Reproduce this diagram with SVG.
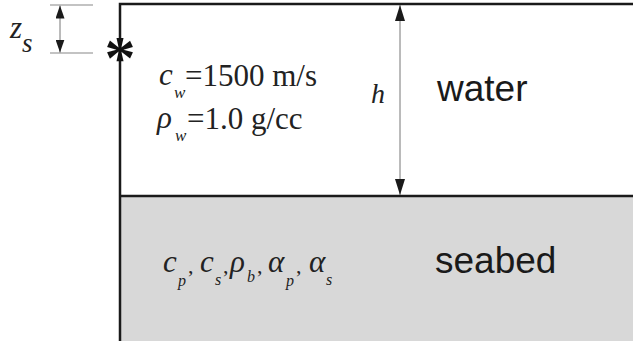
<svg xmlns="http://www.w3.org/2000/svg" width="633" height="341" viewBox="0 0 633 341">
<style>
.m{font-family:"Liberation Serif","Times New Roman",serif;font-style:italic;fill:#222}
.r{font-family:"Liberation Serif","Times New Roman",serif;fill:#222}
.big{font-family:"Liberation Sans",Arial,sans-serif;font-size:37px;fill:#1a1a1a}
.dim{stroke:#777;stroke-width:1;fill:none}
.ext{stroke:#888;stroke-width:1.2}
</style>
<defs>
<marker id="ah" viewBox="0 0 16 10" refX="16" refY="5" markerWidth="16" markerHeight="10" markerUnits="userSpaceOnUse" orient="auto">
<path d="M0,0 L16,5 L0,10 Z" fill="#1a1a1a"/>
</marker>
<marker id="ahs" viewBox="0 0 13 9" refX="13" refY="4.5" markerWidth="13" markerHeight="9" markerUnits="userSpaceOnUse" orient="auto">
<path d="M0,0 L13,4.5 L0,9 Z" fill="#1a1a1a"/>
</marker>
</defs>
<rect width="633" height="341" fill="#ffffff"/>
<g id="seabed">
<rect x="120" y="196" width="513" height="145" fill="#d8d8d8"/>
<text class="big" x="435" y="273">seabed</text>
<g class="m" font-size="31">
<text x="163" y="272">c</text>
<text x="200" y="272">c</text>
<text x="230" y="272">ρ</text>
<text x="268" y="272">α</text>
<text x="309" y="272">α</text>
</g>
<g class="m" font-size="16">
<text x="178" y="286">p</text>
<text x="215" y="285">s</text>
<text x="247" y="282">b</text>
<text x="286" y="286">p</text>
<text x="326" y="285">s</text>
</g>
<g class="r" font-size="22">
<text x="188" y="273">,</text>
<text x="223" y="273">,</text>
<text x="257" y="273">,</text>
<text x="296" y="273">,</text>
</g>
</g>
<g id="water">
<text class="big" x="437" y="101" font-size="38">water</text>
<text class="m" font-size="31" x="159" y="85">c</text>
<text class="m" font-size="17" x="174" y="98">w</text>
<text class="r" font-size="31" x="185" y="86">=1500 m/s</text>
<text class="m" font-size="31" x="157" y="128">ρ</text>
<text class="m" font-size="17" x="175" y="141">w</text>
<text class="r" font-size="31" x="187" y="129">=1.0 g/cc</text>
</g>
<g id="boundary" stroke="#1a1a1a" stroke-width="2.5" fill="none">
<path d="M120,341 L120,4 L633,4"/>
<path d="M120,196 L633,196"/>
</g>
<g id="source">
<text x="120" y="78" font-family="Liberation Serif,serif" font-weight="bold" font-size="62" fill="#111" text-anchor="middle">*</text>
</g>
<g id="connectors">
<line class="ext" x1="50" y1="5" x2="93" y2="5"/>
<line class="ext" x1="50" y1="53" x2="93" y2="53"/>
<line class="dim" x1="60" y1="29" x2="60" y2="5.5" marker-end="url(#ahs)"/>
<line class="dim" x1="60" y1="29" x2="60" y2="52.5" marker-end="url(#ahs)"/>
<line class="dim" x1="400" y1="100" x2="400" y2="5" marker-end="url(#ah)"/>
<line class="dim" x1="400" y1="100" x2="400" y2="195" marker-end="url(#ah)"/>
</g>
<g id="labels">
<text class="m" font-size="28" x="371" y="103">h</text>
<text class="m" font-size="31" x="10" y="38">z</text>
<text class="m" font-size="27" x="22" y="52">s</text>
</g>
</svg>
